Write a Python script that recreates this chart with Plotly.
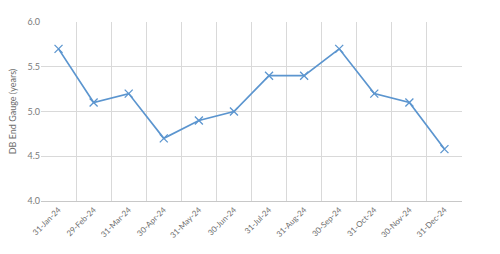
import plotly.graph_objects as go

dates = ["31-Jan-24", "29-Feb-24", "31-Mar-24", "30-Apr-24", "31-May-24", "30-Jun-24",
         "31-Jul-24", "31-Aug-24", "30-Sep-24", "31-Oct-24", "30-Nov-24", "31-Dec-24"]
gauge = [5.7, 5.1, 5.2, 4.7, 4.9, 5.0, 5.4, 5.4, 5.7, 5.2, 5.1, 4.58]
y_ticks = [4.0, 4.5, 5.0, 5.5, 6.0]

fig = go.Figure()
fig.add_trace(go.Scatter(
    x=dates, y=gauge, mode="lines+markers",
    line=dict(color="#5b95cf", width=1.7),
    marker=dict(symbol="x-thin", size=8, line=dict(color="#5b95cf", width=1.3)),
    showlegend=False,
))

fig.update_layout(
    width=500, height=254,
    margin=dict(l=41, r=38, t=22, b=53),
    paper_bgcolor="white", plot_bgcolor="white",
    font=dict(family="Lato", color="#7a7a7a", size=9),
)
fig.update_xaxes(
    type="category", tickson="boundaries", showgrid=True,
    gridcolor="#d9d9d9", gridwidth=1,
    tickangle=-45, tickfont=dict(size=8, color="#6e6e6e"),
    ticks="", showline=True, linecolor="#c8c8c8", range=[-0.5, 11.5],
    mirror=False,
)
fig.update_yaxes(
    range=[4.0, 6.0], tickvals=y_ticks, tickformat=".1f",
    showgrid=True, gridcolor="#d9d9d9", gridwidth=1, zeroline=False,
    tickfont=dict(size=9, color="#7a7a7a"), ticks="",
    title=dict(text="DB End Gauge (years)", font=dict(size=9, color="#6e6e6e"), standoff=9),
)

fig.write_html("out.html")
